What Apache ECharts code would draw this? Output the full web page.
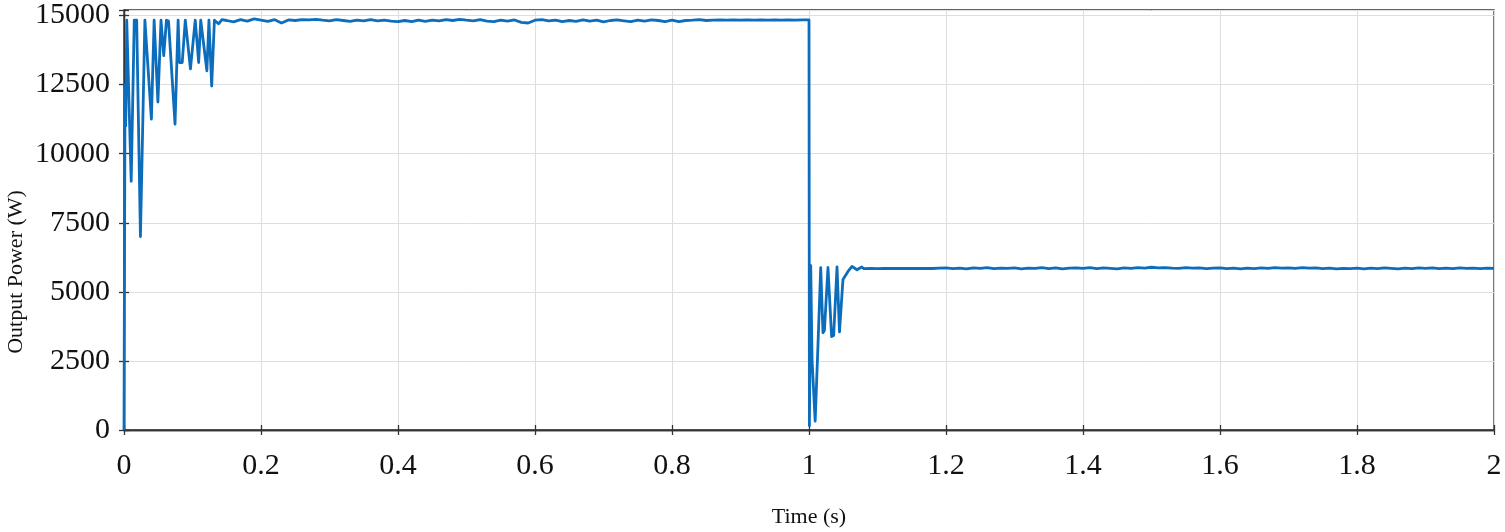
<!DOCTYPE html>
<html>
<head>
<meta charset="utf-8">
<title>Output Power</title>
<script src="https://cdn.jsdelivr.net/npm/echarts@6/dist/echarts.min.js"></script>
<style>
  html, body { margin: 0; padding: 0; background: #fff; }
  #chart { width: 1505px; height: 532px; }
</style>
</head>
<body>
<div id="chart"></div>
<script>

// start-up transient, 0 - 0.15 s
const startTime = [0, 0.0015, 0.0025, 0.004, 0.006, 0.0105, 0.015, 0.0185, 0.024, 0.0305,
  0.0325, 0.040, 0.044, 0.0495, 0.054, 0.058, 0.062, 0.065, 0.0745, 0.079,
  0.081, 0.085, 0.0895, 0.097, 0.104, 0.109, 0.112, 0.121, 0.124, 0.128,
  0.132, 0.138, 0.143]
const startPower = [0, 12500, 11000, 14830, 14800, 9000, 14830, 14830, 7000, 14830,
  14800, 11250, 14830, 11870, 14830, 13550, 14830, 14800, 11070, 14830,
  13300, 13300, 14830, 13070, 14830, 13300, 14830, 13000, 14830, 12450,
  14830, 14700, 14850]

// first steady state, 0.15 - 1.0 s
const highTime = [0.15, 0.16, 0.17, 0.18, 0.19, 0.20, 0.21, 0.22, 0.23, 0.24,
  0.25, 0.26, 0.27, 0.28, 0.29, 0.30, 0.31, 0.32, 0.33, 0.34,
  0.35, 0.36, 0.37, 0.38, 0.39, 0.40, 0.41, 0.42, 0.43, 0.44,
  0.45, 0.46, 0.47, 0.48, 0.49, 0.50, 0.51, 0.52, 0.53, 0.54,
  0.55, 0.56, 0.57, 0.58, 0.59, 0.60, 0.61, 0.62, 0.63, 0.64,
  0.65, 0.66, 0.67, 0.68, 0.69, 0.70, 0.71, 0.72, 0.73, 0.74,
  0.75, 0.76, 0.77, 0.78, 0.79, 0.80, 0.81, 0.82, 0.83, 0.84,
  0.85, 0.86, 0.87, 0.88, 0.89, 0.90, 0.91, 0.92, 0.93, 0.94,
  0.95, 0.96, 0.97, 0.98, 0.99, 1.0]
const highPower = [14820, 14770, 14850, 14800, 14880, 14830, 14790, 14850, 14730, 14840,
  14820, 14850, 14840, 14860, 14830, 14810, 14850, 14820, 14790, 14830,
  14810, 14850, 14810, 14830, 14800, 14780, 14820, 14780, 14830, 14790,
  14830, 14810, 14850, 14820, 14860, 14830, 14810, 14850, 14800, 14780,
  14830, 14800, 14840, 14750, 14730, 14830, 14850, 14810, 14830, 14780,
  14820, 14790, 14840, 14800, 14830, 14770, 14820, 14840, 14810, 14780,
  14830, 14800, 14840, 14820, 14780, 14830, 14780, 14820, 14830, 14850,
  14820, 14830, 14840, 14830, 14840, 14830, 14840, 14830, 14840, 14830,
  14840, 14830, 14840, 14830, 14840, 14840]

// step change transient, 1.0 - 1.08 s
const stepTime = [1.0006, 1.0025, 1.0045, 1.009, 1.013, 1.0171, 1.0204, 1.0225, 1.0277, 1.033,
  1.036, 1.0409, 1.0445, 1.0463, 1.0496, 1.0569, 1.0628, 1.070, 1.077]
const stepPower = [150, 5950, 2500, 320, 3000, 5880, 3520, 3600, 5880, 3380,
  3420, 5900, 3550, 3520, 5450, 5740, 5920, 5800, 5900]

// second steady state, 1.08 - 2.0 s
const lowTime = [1.08, 1.09, 1.10, 1.11, 1.12, 1.13, 1.14, 1.15, 1.16, 1.17,
  1.18, 1.19, 1.20, 1.21, 1.22, 1.23, 1.24, 1.25, 1.26, 1.27,
  1.28, 1.29, 1.30, 1.31, 1.32, 1.33, 1.34, 1.35, 1.36, 1.37,
  1.38, 1.39, 1.40, 1.41, 1.42, 1.43, 1.44, 1.45, 1.46, 1.47,
  1.48, 1.49, 1.50, 1.51, 1.52, 1.53, 1.54, 1.55, 1.56, 1.57,
  1.58, 1.59, 1.60, 1.61, 1.62, 1.63, 1.64, 1.65, 1.66, 1.67,
  1.68, 1.69, 1.70, 1.71, 1.72, 1.73, 1.74, 1.75, 1.76, 1.77,
  1.78, 1.79, 1.80, 1.81, 1.82, 1.83, 1.84, 1.85, 1.86, 1.87,
  1.88, 1.89, 1.90, 1.91, 1.92, 1.93, 1.94, 1.95, 1.96, 1.97,
  1.98, 1.99, 2.0]
const lowPower = [5840, 5850, 5840, 5850, 5845, 5850, 5845, 5850, 5845, 5850,
  5845, 5860, 5870, 5840, 5860, 5830, 5870, 5850, 5880, 5840,
  5860, 5850, 5870, 5830, 5860, 5850, 5880, 5840, 5870, 5830,
  5860, 5870, 5850, 5880, 5840, 5870, 5850, 5830, 5870, 5850,
  5880, 5860, 5890, 5870, 5880, 5860, 5850, 5880, 5860, 5870,
  5840, 5860, 5870, 5840, 5860, 5830, 5860, 5840, 5870, 5850,
  5880, 5860, 5870, 5850, 5880, 5860, 5870, 5840, 5860, 5830,
  5850, 5840, 5860, 5830, 5860, 5840, 5870, 5850, 5830, 5860,
  5840, 5870, 5850, 5870, 5840, 5860, 5840, 5870, 5850, 5860,
  5840, 5860, 5850]

const xTicks = ['0', '0.2', '0.4', '0.6', '0.8', '1', '1.2', '1.4', '1.6', '1.8', '2']
const yTicks = ['0', '2500', '5000', '7500', '10000', '12500', '15000']

const font = 'Liberation Serif, Times New Roman, serif'

function pairs(t, p) {
  return t.map((v, i) => [v, p[i]])
}

const powerData = [].concat(
  pairs(startTime, startPower),
  pairs(highTime, highPower),
  pairs(stepTime, stepPower),
  pairs(lowTime, lowPower)
)

const chart = echarts.init(document.getElementById('chart'))

const axisLine = { show: true, lineStyle: { color: '#333', width: 1.3 } }
const tick = { show: true, inside: true, length: 5, lineStyle: { color: '#333', width: 1.3 } }

chart.setOption({
  animation: false,
  backgroundColor: '#fff',
  grid: {
    left: 124,
    right: 11,
    top: 10,
    bottom: 102,
    show: true,
    borderColor: '#333',
    borderWidth: 1.3,
    outerBoundsMode: 'none'
  },
  xAxis: [
    {
      type: 'value',
      min: 0,
      max: 2,
      interval: 0.2,
      name: 'Time (s)',
      nameLocation: 'middle',
      nameGap: 76,
      nameTextStyle: { fontFamily: font, fontSize: 22, color: '#111' },
      axisLine: axisLine,
      axisTick: tick,
      axisLabel: {
        margin: 21,
        fontFamily: font,
        fontSize: 30,
        color: '#111',
        formatter: (v) => xTicks[Math.round(v / 0.2)]
      },
      splitLine: { show: true, lineStyle: { color: '#dedede', width: 1 } }
    },
    {
      type: 'value',
      position: 'top',
      min: 0,
      max: 2,
      interval: 0.2,
      axisLine: axisLine,
      axisTick: tick,
      axisLabel: { show: false },
      splitLine: { show: false }
    }
  ],
  yAxis: [
    {
      type: 'value',
      min: 0,
      max: 15200,
      interval: 2500,
      axisLine: axisLine,
      axisTick: tick,
      axisLabel: {
        margin: 14,
        fontFamily: font,
        fontSize: 30,
        color: '#111',
        formatter: (v) => (v % 2500 === 0 ? yTicks[v / 2500] : '')
      },
      splitLine: { show: true, lineStyle: { color: '#dedede', width: 1 } }
    },
    {
      type: 'value',
      position: 'right',
      min: 0,
      max: 15200,
      interval: 2500,
      axisLine: axisLine,
      axisTick: tick,
      axisLabel: { show: false },
      splitLine: { show: false }
    }
  ],
  graphic: [
    {
      type: 'text',
      x: 16,
      y: 272,
      rotation: Math.PI / 2,
      style: {
        text: 'Output Power (W)',
        font: '22px ' + font,
        fill: '#111',
        align: 'center',
        verticalAlign: 'middle'
      }
    }
  ],
  series: [
    {
      name: 'Output Power',
      type: 'line',
      xAxisIndex: 0,
      yAxisIndex: 0,
      data: powerData,
      showSymbol: false,
      sampling: 'none',
      lineStyle: { color: '#0c6dbd', width: 2.8, join: 'round' },
      itemStyle: { color: '#0c6dbd' }
    }
  ]
})
</script>
</body>
</html>
